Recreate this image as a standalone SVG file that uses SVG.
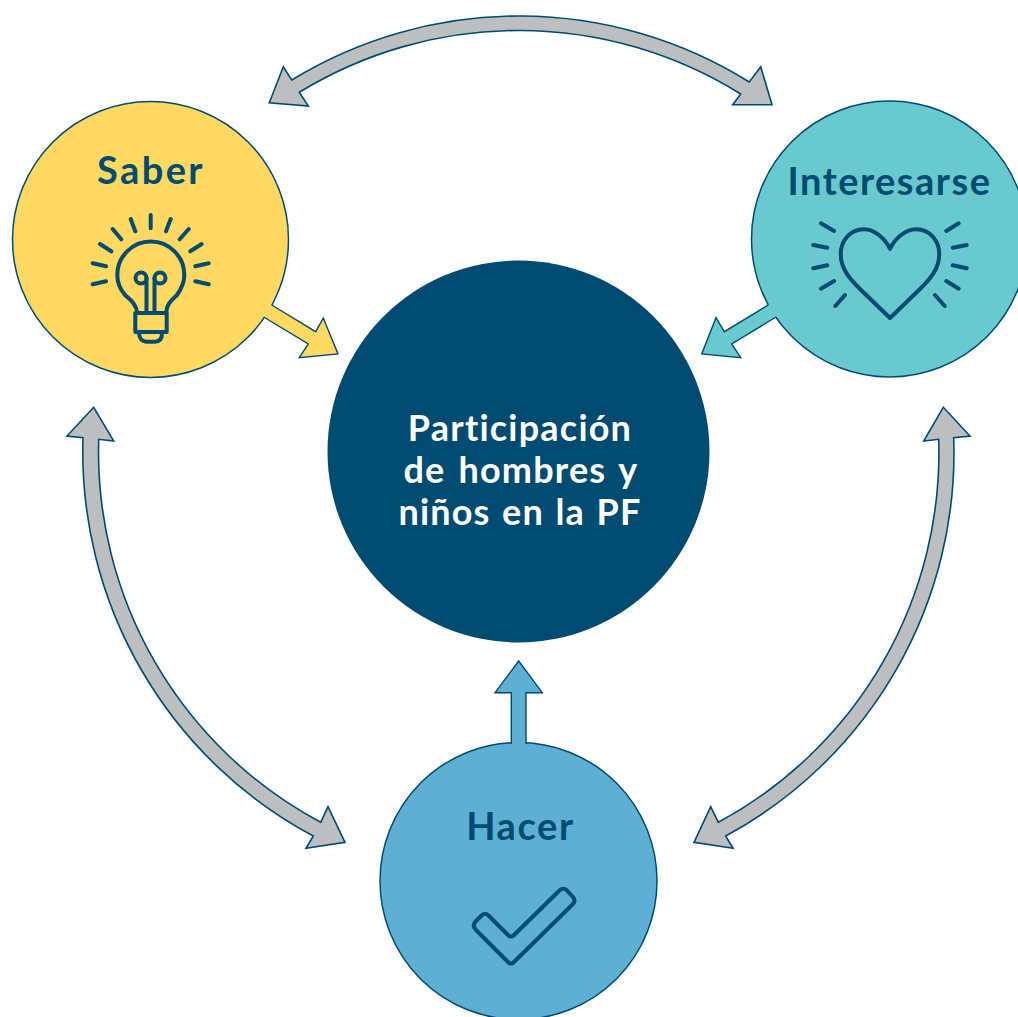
<svg xmlns="http://www.w3.org/2000/svg" width="1018" height="1017" viewBox="0 0 1018 1017">
<style>
.n{stroke:#004b71;stroke-width:1.5}
.g{fill:#bcbec0;stroke:#004b71;stroke-width:1.6;stroke-linejoin:miter}
.e{stroke:none}
.o{fill:none;stroke:#004b71;stroke-width:1.4;stroke-linejoin:miter}
.i{fill:none;stroke:#004b71;stroke-width:4;stroke-linecap:round;stroke-linejoin:round}
text{font-family:"Lato","Liberation Sans",sans-serif;font-weight:700;text-anchor:middle}
.t{font-size:38px;fill:#004b71}
.c{font-size:36px;fill:#fff;letter-spacing:1.2px;word-spacing:3px}
</style>
<rect width="1018" height="1017" fill="#fff"/>
<g id="saber">
<circle class="n" cx="150.500" cy="239.500" r="138" fill="#ffd961"/>
<text class="t" x="151" y="184" style="letter-spacing:2.400px">Saber</text>
<g class="i">
<path d="M150.700 215V228.300M130.700 219L135.300 231.300M112.700 229L121.300 239.300M100 244L111.300 251.300M92.700 263.300L106 266.300M92.700 284.300L106 281.300M170.700 219L166 231.300M188.700 229L179.700 239.300M201.700 244L190.300 251.300M208.700 263.300L195.300 266.300M208.700 284.300L195.300 281.300"/>
<path d="M137.300 313C136 303 129 299 125 295C119 288 117.300 282 117.300 275A33.500 33.500 0 0 1 184.300 275C184.300 282 182 288 177 295C172 300 167 303 166 313"/>
<path d="M135.300 313H166.700V332H135.300ZM139 333C139 338 142 341.700 147 341.700H155C160 341.700 162 338 162 333"/>
<circle cx="141" cy="278" r="5.500"/>
<circle cx="160" cy="278" r="5.500"/>
<path d="M146.500 278V313M154.500 278V313"/>
</g>
</g>
<g id="interesarse">
<circle class="n" cx="889.500" cy="239" r="138" fill="#68cace"/>
<text class="t" x="889.500" y="195" style="letter-spacing:1.500px">Interesarse</text>
<g class="i">
<path d="M890 249C885 238 874 229.300 864 229.300C850 229.300 840.700 241 840.700 254C840.700 269 850 279 860 289L890 318L920 289C930 279 939.300 269 939.300 254C939.300 241 930 229.300 916 229.300C906 229.300 895 238 890 249Z"/>
<path d="M821 223.300L834 231M813.300 245L827.300 247.700M813.300 268.300L827.300 265.300M821 288.700L834 281M835.300 306L845 295M958.700 223.300L946.300 231M966.700 245L952.700 247.700M966.700 268.300L952.700 265.300M958.700 288.700L946.300 281M944.700 306L935 295"/>
</g>
</g>
<g id="hacer">
<circle class="n" cx="518.500" cy="881" r="138.500" fill="#5dafd4"/>
<text class="t" x="520.500" y="840" style="letter-spacing:1.600px">Hacer</text>
<path class="i" d="M476 921L482 915Q485 912.500 488 915L508 935Q511 938 514 935L560 890Q563.300 887.500 566.500 890L573 897Q576 900.500 573 904L514 962Q511 965 508 962L476 930Q471.500 925.500 476 921Z"/>
</g>
<g id="centro">
<circle cx="518.500" cy="451.500" r="191" fill="#004b71"/>
<text class="c" x="520" y="441">Participación</text>
<text class="c" x="521" y="483">de hombres y</text>
<text class="c" x="520" y="525" style="word-spacing:1.500px">niños en la PF</text>
</g>
<g id="connectors">
<path class="g" d="M269.300 102.700L283.300 66.700L291.700 80A435 435 0 0 1 749.300 82L760.700 66.700L772 104.700L732.700 104.700L740.700 94A420 420 0 0 0 299.300 92.300L308.300 106Z"/>
<path class="g" d="M93.700 407.300L113.700 441L98.700 439.300A420 420 0 0 0 320.700 822.300L328 806.700L345 842.300L306 848.300L313.300 836A435.500 435.500 0 0 1 83 437.700L67 436Z"/>
<path class="g" d="M943.300 407.300L970 436L953.700 437.700A435.500 435.500 0 0 1 725.700 836L733 848.300L694 842.300L710.700 806.700L718.300 822.300A420 420 0 0 0 938.700 439.300L923.700 441Z"/>
<path class="e" fill="#ffd961" d="M262 299L315.700 331.700L323.300 318L338 354L299.300 357.700L308.300 344L255 311.700Z"/>
<path class="o" d="M271.700 305L315.700 331.700L323.300 318L338 354L299.300 357.700L308.300 344L263.700 317"/>
<path class="e" fill="#68cace" d="M778 299L724.300 331.700L716 317.700L701.700 354L740.700 357.700L731.700 344L785 311.700Z"/>
<path class="o" d="M768.300 305L724.300 331.700L716 317.700L701.700 354L740.700 357.700L731.700 344L776 317"/>
<path class="e" fill="#5dafd4" d="M511.300 750V692.700H495L518.700 661L542.300 692.700H526V750Z"/>
<path class="o" d="M511.300 744V692.700H495L518.700 661L542.300 692.700H526V744"/>
</g>
</svg>
